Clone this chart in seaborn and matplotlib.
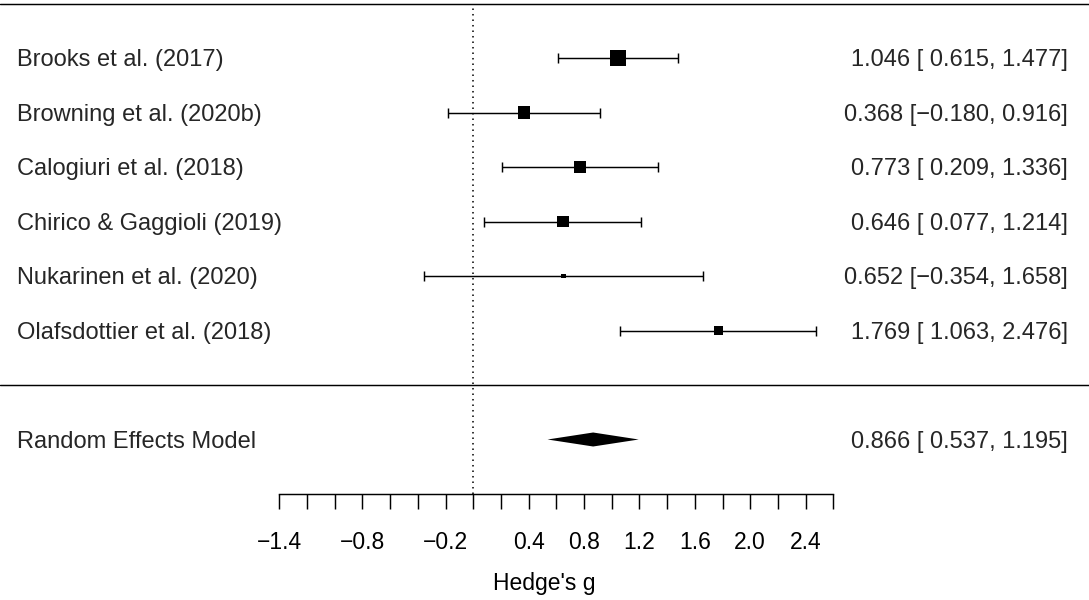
import numpy as np
import pandas as pd
import matplotlib
matplotlib.use("Agg")
import matplotlib.pyplot as plt
import matplotlib.transforms as mtransforms
import seaborn as sns

# ---------------- data ----------------
studies = ["Brooks et al. (2017)", "Browning et al. (2020b)", "Calogiuri et al. (2018)",
           "Chirico & Gaggioli (2019)", "Nukarinen et al. (2020)", "Olafsdottier et al. (2018)"]
estimates = [1.046, 0.368, 0.773, 0.646, 0.652, 1.769]
ci_lower = [0.615, -0.180, 0.209, 0.077, -0.354, 1.063]
ci_upper = [1.477, 0.916, 1.336, 1.214, 1.658, 2.476]
weights = [24.3, 19.6, 19.1, 19.1, 7.6, 14.8]   # relative study weights (estimated)

model_label = "Random Effects Model"
model_est = 0.866
model_lower = 0.537
model_upper = 1.195

tick_values = [-1.4, -1.2, -1.0, -0.8, -0.6, -0.4, -0.2, 0.0, 0.2, 0.4, 0.6, 0.8,
               1.0, 1.2, 1.4, 1.6, 1.8, 2.0, 2.2, 2.4, 2.6]
tick_labels_shown = ["-1.4", "-0.8", "-0.2", "0.4", "0.8", "1.2", "1.6", "2.0", "2.4"]
xlabel = "Hedge's g"

# ---------------- style ----------------
sns.set_theme(style="white")
plt.rcParams["font.family"] = ["Liberation Sans", "DejaVu Sans"]
plt.rcParams["axes.unicode_minus"] = True

W, H = 1089, 600
fig = plt.figure(figsize=(W / 100, H / 100), dpi=100)
axis_px = 494          # pixel row of the x axis line (from top)
ax = fig.add_axes([0, (H - axis_px) / H, 1, axis_px / H])

k = len(studies)
rows = np.arange(k, 0, -1)  # 6..1
px_per_row = (axis_px - 58) / (k + 2)
top_row = k + 58 / px_per_row
ax.set_ylim(-2, top_row)

px_per_unit = 138.5
zero_px = 473.2
ax.set_xlim(-zero_px / px_per_unit, (W - zero_px) / px_per_unit)

df = pd.DataFrame({"study": studies, "est": estimates, "lo": ci_lower,
                   "hi": ci_upper, "w": weights, "row": rows})

# marker sizes from weights (side length in px, linear in weight)
w = np.asarray(weights)
side_px = 4.7 + (w - w.min()) / (w.max() - w.min()) * (15.3 - 4.7)
side_pt = side_px * 0.72
size_map = {s: a ** 2 for s, a in zip(studies, side_pt)}

LW = 1.05
# reference lines
ax.axhline(k + 1, color="black", lw=LW)
ax.axhline(0, color="black", lw=LW)
ax.vlines(0, -2, k + 1, colors="black", linestyles=(0, (1, 2.6)), lw=1.1)

# confidence intervals
ax.errorbar(df["est"], df["row"],
            xerr=[df["est"] - df["lo"], df["hi"] - df["est"]],
            fmt="none", ecolor="black", elinewidth=LW, capsize=3.3, capthick=LW)

# squares
sns.scatterplot(data=df, x="est", y="row", size="study", sizes=size_map,
                marker="s", color="black", linewidth=0, legend=False, ax=ax, zorder=5)

# summary diamond
dh = 7 / px_per_row
ax.fill([model_lower, model_est, model_upper, model_est],
        [-1, -1 + dh, -1, -1 - dh], color="black", lw=0)

# text columns
trans_y = ax.get_yaxis_transform()
off = mtransforms.ScaledTranslation(0, -6 / 72, fig.dpi_scale_trans)
fs = 17


def fmt(v):
    s = f"{v:.3f}"
    return s.replace("-", "\u2212")


def fmt_ci(e, lo, hi):
    lo_s = fmt(lo) if lo < 0 else " " + fmt(lo)
    return f"{fmt(e)} [{lo_s}, {fmt(hi)}]"


for s, e, lo, hi, r in zip(studies, estimates, ci_lower, ci_upper, rows):
    ax.text(17 / W, r, s, transform=trans_y + off, ha="left", va="baseline", fontsize=fs)
    ax.text(1068 / W, r, fmt_ci(e, lo, hi), transform=trans_y + off,
            ha="right", va="baseline", fontsize=fs)

ax.text(17 / W, -1, model_label, transform=trans_y + off, ha="left", va="baseline", fontsize=fs)
ax.text(1068 / W, -1, fmt_ci(model_est, model_lower, model_upper), transform=trans_y + off,
        ha="right", va="baseline", fontsize=fs)

# x axis
for sp in ["top", "left", "right"]:
    ax.spines[sp].set_visible(False)
ax.spines["bottom"].set_visible(True)
ax.spines["bottom"].set_color("black")
ax.spines["bottom"].set_linewidth(LW)
ax.spines["bottom"].set_bounds(tick_values[0], tick_values[-1])
ax.set_xticks(tick_values)
shown = {float(t) for t in tick_labels_shown}
ax.set_xticklabels([(f"{t:.1f}".replace("-", "\u2212") if round(t, 1) in shown else "")
                    for t in tick_values])
ax.tick_params(axis="x", bottom=True, direction="out", length=10.5, width=LW,
               color="black", pad=16, labelsize=16.5, labelcolor="black")
ax.set_yticks([])
ax.set_xlabel(xlabel, fontsize=16.5, labelpad=13, color="black")
ax.set_ylabel("")
ax.patch.set_alpha(0)

fig.savefig("out.png", dpi=100, facecolor="white")
